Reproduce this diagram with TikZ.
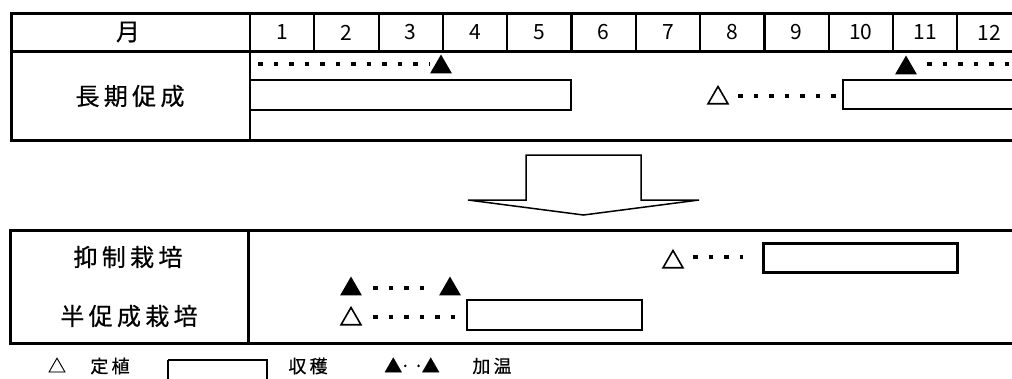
\documentclass[tikz,border=0pt]{standalone}
\usepackage{fontspec}
\newfontfamily\jfont{Noto Sans CJK JP}
\newfontfamily\jwide[LetterSpace=18, FakeBold=0.6]{Noto Sans CJK JP}
\usetikzlibrary{shapes.geometric}
\tikzset{
  lab/.style={font=\jwide\fontsize{24}{24}\selectfont, inner sep=0},
  leg/.style={font=\jwide\fontsize{18}{18}\selectfont, inner sep=0},
  mon/.style={font=\jfont\fontsize{21}{21}\selectfont, inner sep=0},
  heat/.style={regular polygon, regular polygon sides=3, fill=black, inner sep=0, minimum size=25pt},
  plant/.style={regular polygon, regular polygon sides=3, draw, line width=1.6pt, inner sep=0, minimum size=23pt},
  dots/.style={line width=4.5pt, dash pattern=on 4.5pt off 11pt},
  crop/.style={draw, line width=1.8pt},
}
\begin{document}
\begin{tikzpicture}[x=1pt,y=-1pt]
  %%%%% START %%%%%
  \useasboundingbox (0,0) rectangle (1012,378);

  % upper table
  \draw[line width=3pt] (11.5,13.5) rectangle (1030,140);
  \draw[line width=3pt] (11.5,51.5) -- (1030,51.5);
  \draw[line width=2.6pt] (250,13.5) -- (250,140);
  \foreach \k in {1,...,11}
    \draw[line width=2.2pt] ({250+64.3*\k},13.5) -- ({250+64.3*\k},51.5);

  \node[lab] (month) at (128,32) {月};
  \foreach \m in {1,...,12}
    \node[mon] (m\m) at ({250+64.3*(\m-0.5)},32.5) {\m};
  \node[lab] (long) at (130,96) {長期促成};

  \draw[dots] (258,64) -- (430,64);
  \node[heat] (lheat1) at (441,67) {};
  \draw[crop] (250,80) rectangle (571,110);
  \node[plant] (lplant) at (718,98) {};
  \draw[dots] (738,96) -- (836,96);
  \draw[crop] (843,80) rectangle (1030,109);
  \node[heat] (lheat2) at (906,68) {};
  \draw[dots] (927,64) -- (1015,64);

  % arrow
  \draw[line width=1.5pt, fill=white] (526,155) -- (641,155) -- (641,200) -- (699,200)
    -- (583.5,215) -- (468,200) -- (526,200) -- cycle;

  % lower table
  \draw[line width=3pt] (10,230) rectangle (1030,343.5);
  \draw[line width=2.6pt] (248.5,230) -- (248.5,343.5);

  \node[lab] (yoku) at (128,257) {抑制栽培};
  \node[lab] (han) at (129,316) {半促成栽培};

  \node[plant] (yplant) at (673,262) {};
  \draw[dots] (693,257) -- (743,257);
  \draw[line width=3pt] (763,243) rectangle (957,272);

  \node[heat] (hheat1) at (351,289) {};
  \node[heat] (hheat2) at (450,289) {};
  \draw[dots] (373,288) -- (432,288);
  \node[plant] (hplant) at (351,319) {};
  \draw[dots] (373,317) -- (466,317);
  \draw[crop] (467,300) rectangle (642,330);

  % legend
  \node[leg] (lg1) at (57,365) {△};
  \node[leg] (lg2) at (110,366) {定植};
  \draw[line width=1.6pt] (168,360) -- (168,390);
  \draw[line width=1.6pt] (168,360) -- (267,360) -- (267,390);
  \node[leg] (lg3) at (308,366) {収穫};
  \node[leg] (lg4) at (412,365) {▲\kern-2pt··\kern-2pt▲};
  \node[leg] (lg5) at (492,366) {加温};
  %%%%% END %%%%%
\end{tikzpicture}
\end{document}
